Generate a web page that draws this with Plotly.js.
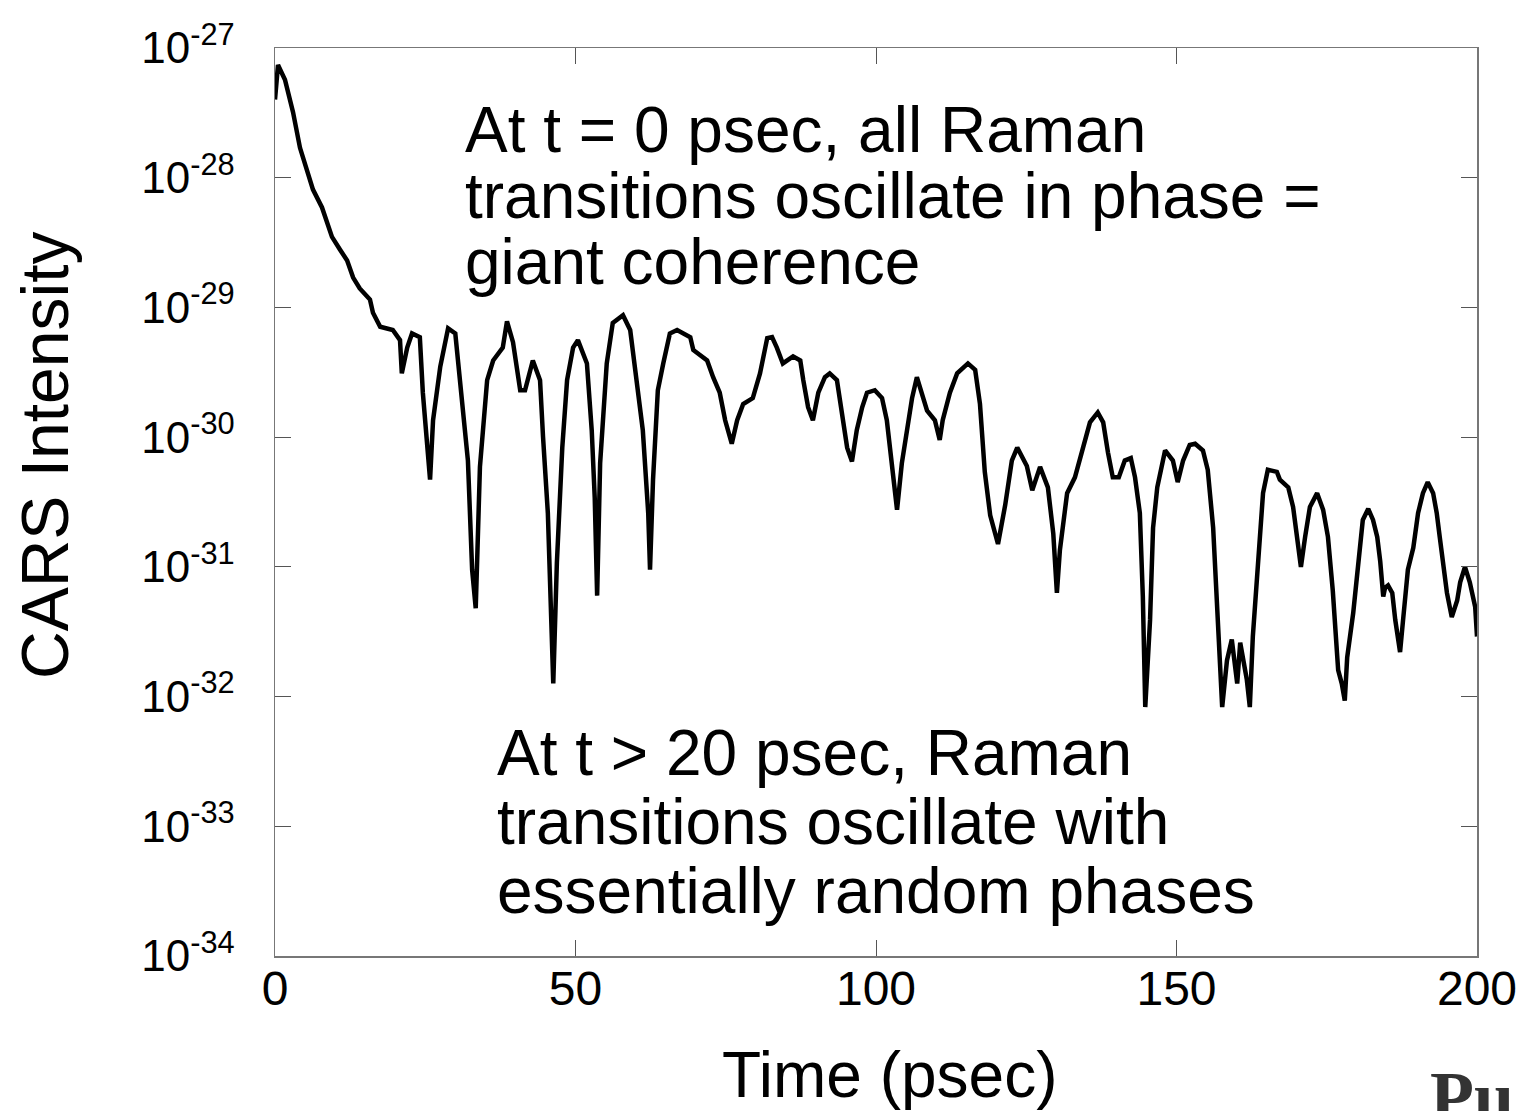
<!DOCTYPE html>
<html>
<head>
<meta charset="utf-8">
<script src="https://cdn.plot.ly/plotly-3.0.1.min.js"></script>
<style>html,body{margin:0;padding:0;background:#fff;}#chart{width:1519px;height:1111px;}</style>
</head>
<body>
<div id="chart"></div>
<script>
// Time (psec)
const timePs = [
  0,0.5,1.66,3.0,4.16,5.32,6.32,7.82,8.65,9.48,
  10.8,12.0,13.0,14.1,15.8,16.3,17.5,19.6,20.8,21.1,
  22.0,22.8,24.1,24.6,25.8,26.3,27.5,28.8,30.0,31.3,
  32.1,32.8,33.4,34.1,35.3,36.3,37.9,38.6,39.6,40.8,
  41.6,42.9,44.1,44.6,45.4,46.3,46.9,47.8,48.6,49.6,
  50.4,51.9,52.7,53.2,53.6,54.1,55.2,56.2,57.9,59.1,
  60.2,61.2,62.1,62.4,62.9,63.7,64.6,65.7,66.9,69.1,
  69.6,71.9,72.9,74.0,74.9,76.0,76.9,77.9,79.5,80.7,
  81.9,82.7,83.5,84.5,86.2,87.4,87.9,88.7,89.5,90.4,
  91.5,92.3,93.5,94.3,95.2,96.0,96.8,97.7,98.5,99.8,
  101.0,101.8,102.7,103.5,104.3,105.2,106.0,106.8,107.8,108.5,
  109.8,110.6,111.1,112.3,113.5,115.3,116.5,117.3,118.1,119.0,
  120.3,121.5,122.6,123.5,125.1,126.0,127.3,128.6,129.5,130.1,
  130.6,131.8,133.1,134.4,135.6,136.9,137.8,138.6,139.4,140.4,
  141.4,142.4,143.1,143.9,144.4,144.8,145.6,146.1,146.8,148.1,
  149.4,150.2,151.1,152.2,153.1,154.4,155.2,156.1,156.7,157.6,
  158.4,159.2,160.1,160.6,161.7,162.2,162.7,163.6,164.4,165.2,
  166.7,167.2,168.6,169.4,170.2,170.7,171.4,172.2,173.4,174.4,
  175.2,176.0,176.9,177.5,178.0,178.4,179.4,180.2,181.0,181.9,
  182.7,183.4,183.9,184.4,184.7,185.2,185.9,186.4,187.2,187.7,
  188.5,189.4,190.2,191.0,191.8,192.7,193.3,193.8,194.3,195.0,
  195.8,196.7,197.2,198.0,198.8,199.7,200.0
];
// CARS intensity
const carsIntensity = [
  4.0e-28,7.4e-28,5.7e-28,3.2e-28,1.7e-28,1.15e-28,8.1e-29,5.9e-29,4.4e-29,3.5e-29,
  2.8e-29,2.3e-29,1.7e-29,1.4e-29,1.15e-29,9.1e-30,7.1e-30,6.7e-30,5.6e-30,3.1e-30,
  4.9e-30,6.3e-30,5.9e-30,2.2e-30,4.7e-31,1.35e-30,3.5e-30,6.9e-30,6.3e-30,1.7e-30,
  6.6e-31,9.5e-32,4.8e-32,5.9e-31,2.75e-30,3.9e-30,4.9e-30,7.8e-30,5.4e-30,2.3e-30,
  2.3e-30,3.9e-30,2.75e-30,1.0e-30,2.6e-31,1.26e-32,1.07e-31,8.3e-31,2.75e-30,4.9e-30,
  5.6e-30,3.7e-30,1.13e-30,3.4e-31,6.0e-32,6.3e-31,3.7e-30,7.6e-30,8.7e-30,6.7e-30,
  2.75e-30,1.13e-30,2.6e-31,9.5e-32,4.7e-31,2.3e-30,3.7e-30,6.3e-30,6.7e-30,5.9e-30,
  4.7e-30,3.9e-30,2.9e-30,2.2e-30,1.35e-30,8.9e-31,1.35e-30,1.8e-30,2.0e-30,3.1e-30,
  5.8e-30,5.9e-30,4.9e-30,3.7e-30,4.2e-30,3.9e-30,2.75e-30,1.7e-30,1.35e-30,2.2e-30,
  2.9e-30,3.1e-30,2.75e-30,1.55e-30,8.3e-31,6.5e-31,1.13e-30,1.7e-30,2.2e-30,2.3e-30,
  2.0e-30,1.35e-30,5.3e-31,2.75e-31,6.3e-31,1.13e-30,2.0e-30,2.9e-30,2.0e-30,1.6e-30,
  1.35e-30,9.5e-31,1.35e-30,2.2e-30,3.1e-30,3.7e-30,3.3e-30,1.8e-30,5.4e-31,2.5e-31,
  1.5e-31,3.0e-31,6.6e-31,8.3e-31,6.0e-31,3.9e-31,5.9e-31,4.1e-31,1.8e-31,6.3e-32,
  1.35e-31,3.7e-31,4.9e-31,7.9e-31,1.3e-30,1.55e-30,1.3e-30,7.6e-31,4.9e-31,4.9e-31,
  6.6e-31,6.9e-31,4.9e-31,2.6e-31,5.9e-32,8.3e-33,3.9e-32,2.0e-31,4.1e-31,7.9e-31,
  6.6e-31,4.5e-31,6.6e-31,8.7e-31,8.9e-31,7.9e-31,5.6e-31,2.0e-31,5.2e-32,8.3e-33,
  1.9e-32,2.75e-32,1.26e-32,2.6e-32,1.35e-32,8.3e-33,2.9e-32,1.3e-31,3.7e-31,5.6e-31,
  5.4e-31,4.7e-31,4.1e-31,2.9e-31,1.4e-31,1.0e-31,1.7e-31,2.9e-31,3.7e-31,2.75e-31,
  1.7e-31,6.6e-32,1.6e-32,1.26e-32,9.3e-33,2.0e-32,4.4e-32,1.1e-31,2.3e-31,2.8e-31,
  2.3e-31,1.7e-31,1.1e-31,5.9e-32,6.9e-32,7.2e-32,6.3e-32,3.9e-32,2.2e-32,3.9e-32,
  9.5e-32,1.4e-31,2.6e-31,3.7e-31,4.5e-31,3.7e-31,2.6e-31,1.7e-31,1.1e-31,6.3e-32,
  4.1e-32,5.5e-32,7.6e-32,1.0e-31,7.6e-32,4.9e-32,2.9e-32
];
const xTickVals = [0, 50, 100, 150, 200];
const yTickExponents = [-34, -33, -32, -31, -30, -29, -28, -27];
const yTickVals = [1e-34, 1e-33, 1e-32, 1e-31, 1e-30, 1e-29, 1e-28, 1e-27];
const yTickText = yTickExponents.map(e => '10<sup>' + e + '</sup>');
const noteTop = ["At t = 0 psec, all Raman", "transitions oscillate in phase =", "giant coherence"];
const noteBottom = ["At t > 20 psec, Raman", "transitions oscillate with", "essentially random phases"];
const xTitle = "Time (psec)";
const yTitle = "CARS Intensity";
const logoText = "Pu";

const W = 1519, H = 1111;
const M = {l: 275, r: 42, t: 48, b: 155};
const plotW = W - M.l - M.r, plotH = H - M.t - M.b;
const px2x = p => (p - M.l) / plotW;
const px2y = p => (H - M.b - p) / plotH;
const FONT = "Liberation Sans, Arial, sans-serif";

const annotations = [];
const noteSize = 64;
noteTop.forEach((s, i) => {
  annotations.push({xref: 'paper', yref: 'paper', x: px2x(463), y: px2y(130 + i * 66),
    xanchor: 'left', yanchor: 'middle', showarrow: false, text: s,
    font: {family: FONT, size: noteSize, color: '#000'}});
});
noteBottom.forEach((s, i) => {
  annotations.push({xref: 'paper', yref: 'paper', x: px2x(495), y: px2y(753 + i * 69),
    xanchor: 'left', yanchor: 'middle', showarrow: false, text: s,
    font: {family: FONT, size: noteSize, color: '#000'}});
});
annotations.push({xref: 'paper', yref: 'paper', x: px2x(889), y: px2y(1075),
  xanchor: 'center', yanchor: 'middle', showarrow: false, text: xTitle,
  font: {family: FONT, size: 64, color: '#000'}});
annotations.push({xref: 'paper', yref: 'paper', x: px2x(45), y: px2y(455),
  xanchor: 'center', yanchor: 'middle', showarrow: false, text: yTitle, textangle: -90,
  font: {family: FONT, size: 66, color: '#000'}});
annotations.push({xref: 'paper', yref: 'paper', x: px2x(1428), y: px2y(1097),
  xanchor: 'left', yanchor: 'middle', showarrow: false, text: '<b>' + logoText + '</b>',
  font: {family: 'Liberation Serif, serif', size: 72, color: '#333333'}});

const trace = {
  x: timePs, y: carsIntensity, type: 'scatter', mode: 'lines',
  line: {color: '#000', width: 4.5}, hoverinfo: 'x+y'
};

const axisCommon = {
  showline: true, linecolor: '#777', linewidth: 1.5, mirror: 'ticks',
  ticks: 'inside', ticklen: 16, tickwidth: 1, tickcolor: '#555',
  showgrid: false, zeroline: false
};

const layout = {
  width: W, height: H, margin: M,
  paper_bgcolor: '#fff', plot_bgcolor: '#fff', showlegend: false,
  font: {family: FONT, color: '#000'},
  xaxis: Object.assign({}, axisCommon, {
    range: [0, 200], tickmode: 'array', tickvals: xTickVals,
    tickfont: {family: FONT, size: 48, color: '#000'}, ticklabelstandoff: -10
  }),
  yaxis: Object.assign({}, axisCommon, {
    type: 'log', range: [-34, -27], tickmode: 'array', tickvals: yTickVals, ticktext: yTickText,
    tickfont: {family: FONT, size: 44, color: '#000'}, ticklabelstandoff: 30
  }),
  annotations: annotations
};

Plotly.newPlot('chart', [trace], layout, {displayModeBar: false, staticPlot: true});
</script>
</body>
</html>
